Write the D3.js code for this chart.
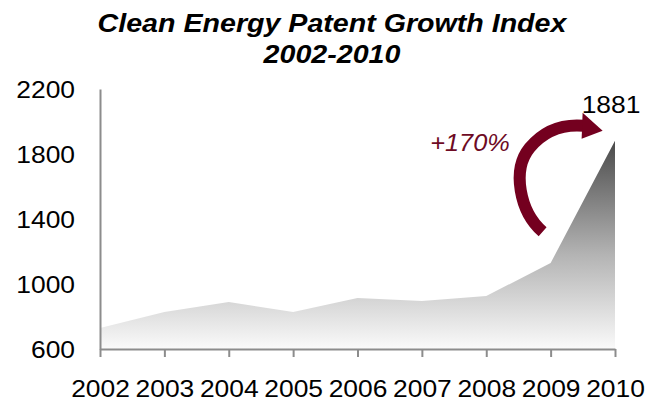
<!DOCTYPE html>
<html>
<head>
<meta charset="utf-8">
<script src="https://cdn.jsdelivr.net/npm/d3@7"></script>
<style>
  body { margin: 0; background: #fff; }
  text { font-family: "Liberation Sans", Arial, sans-serif; }
</style>
</head>
<body>
<svg width="646" height="401"></svg>
<script>
// data
var years = ["2002", "2003", "2004", "2005", "2006", "2007", "2008", "2009", "2010"];
var patentIndex = [729, 828, 889, 828, 914, 895, 926, 1129, 1881];
var yTicks = [600, 1000, 1400, 1800, 2200];
var titleLines = ["Clean Energy Patent Growth Index", "2002-2010"];
var growthLabel = "+170%";

var svg = d3.select("svg"),
    width = +svg.attr("width"),
    height = +svg.attr("height");

var stretch = 1.1; // text in the picture is a little wide

var x = d3.scalePoint().domain(years).range([100, 615]);
var y = d3.scaleLinear().domain([600, 2200]).range([349, 89]);

var data = years.map(function(d, i) { return {year: d, value: patentIndex[i]}; });

// helper: put a text at (tx,ty) with a horizontal stretch
function place(sel, tx, ty) {
  return sel.attr("transform", "translate(" + tx + "," + ty + ") scale(" + stretch + ",1)");
}

// gradient for the area
var grad = svg.append("defs").append("linearGradient")
    .attr("id", "areaGrad")
    .attr("gradientUnits", "userSpaceOnUse")
    .attr("x1", 0).attr("x2", 0)
    .attr("y1", y(d3.max(patentIndex))).attr("y2", y(600));
grad.append("stop").attr("offset", "0%").attr("stop-color", "#4a4a4a");
grad.append("stop").attr("offset", "55%").attr("stop-color", "#b4b4b4");
grad.append("stop").attr("offset", "100%").attr("stop-color", "#fafafa");

var area = d3.area()
    .x(function(d) { return x(d.year); })
    .y0(y(600))
    .y1(function(d) { return y(d.value); });

svg.append("path")
    .datum(data)
    .attr("d", area)
    .attr("fill", "url(#areaGrad)");

// y axis: plain line, labels only
var yAxis = svg.append("g")
    .attr("transform", "translate(" + x(years[0]) + ",0)")
    .call(d3.axisLeft(y).tickValues(yTicks).tickSize(0).tickPadding(25).tickFormat(d3.format("d")));
yAxis.select(".domain").attr("stroke", "#8c8c8c").attr("stroke-width", 2);
yAxis.selectAll(".tick text")
    .attr("font-size", 24).attr("fill", "#000")
    .attr("x", null).attr("dy", null)
    .attr("dominant-baseline", "central")
    .each(function() { place(d3.select(this), -25, 0); });

// x axis
var xAxis = svg.append("g")
    .attr("transform", "translate(0," + y(600) + ")")
    .call(d3.axisBottom(x).tickSizeInner(8).tickSizeOuter(0).tickPadding(0));
xAxis.select(".domain").attr("stroke", "#8c8c8c").attr("stroke-width", 2);
xAxis.selectAll(".tick line").attr("stroke", "#8c8c8c").attr("stroke-width", 2);
xAxis.selectAll(".tick text")
    .attr("font-size", 24).attr("fill", "#000")
    .attr("y", null).attr("dy", null)
    .attr("dominant-baseline", "central")
    .each(function() { place(d3.select(this), 0, 39); });

// title
titleLines.forEach(function(t, i) {
  place(svg.append("text")
      .attr("text-anchor", "middle")
      .attr("font-size", 26)
      .attr("font-weight", "bold")
      .attr("font-style", "italic")
      .attr("fill", "#000")
      .text(t), 332, 32 + i * 31);
});

// last value label
var last = data[data.length - 1];
place(svg.append("text")
    .attr("text-anchor", "middle")
    .attr("dominant-baseline", "central")
    .attr("font-size", 24)
    .attr("fill", "#000")
    .text(last.value), x(last.year) - 4, y(last.value) - 36);

// curved growth arrow, anchored at 2009 / top value
var ax = x("2009"), ay = y(last.value);
var arrowColor = "#74001f";
svg.append("path")
    .attr("d", "M" + (ax - 8) + "," + (ay + 91) +
               "C" + (ax - 31) + "," + (ay + 71) + " " + (ax - 39) + "," + (ay + 29) + " " + (ax - 21) + "," + (ay + 7) +
               "C" + (ax - 6) + "," + (ay - 11) + " " + (ax + 14) + "," + (ay - 17) + " " + (ax + 34) + "," + (ay - 15))
    .attr("fill", "none")
    .attr("stroke", arrowColor)
    .attr("stroke-width", 12);
svg.append("path")
    .attr("d", "M" + (ax + 32) + "," + (ay - 28) + "L" + (ax + 52) + "," + (ay - 10) + "L" + (ax + 31) + "," + (ay - 2) + "Z")
    .attr("fill", arrowColor);

place(svg.append("text")
    .attr("text-anchor", "middle")
    .attr("dominant-baseline", "central")
    .attr("font-size", 23)
    .attr("font-style", "italic")
    .attr("fill", "#6e0b24")
    .text(growthLabel), 470, 143);
</script>
</body>
</html>
